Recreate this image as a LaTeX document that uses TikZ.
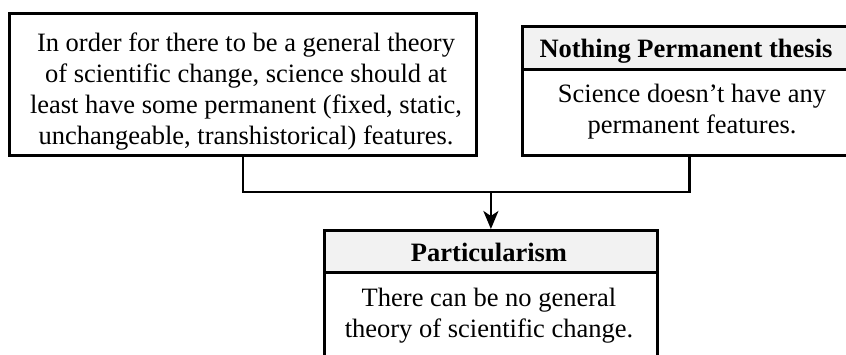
\documentclass[tikz,border=0pt]{standalone}
\usepackage{fontspec}
\setmainfont{Liberation Serif}
\usetikzlibrary{arrows.meta}
\definecolor{headfill}{HTML}{F2F2F2}
\begin{document}
\begin{tikzpicture}[x=0.5pt,y=-0.5pt,
  box/.style={draw=black, line width=1.4pt, inner sep=0pt, anchor=north west},
  headbox/.style={box, fill=headfill},
  bodytext/.style={font=\fontsize{13.25}{15.5}\selectfont, align=center, inner sep=0pt},
  headtext/.style={font=\fontsize{13.25}{15.5}\selectfont\bfseries, inner sep=0pt, anchor=base},
  conn/.style={line width=1.3pt},
  arrowconn/.style={conn, -{Stealth[length=9pt, width=7.5pt, inset=2.5pt]}}]
\clip (0,0) rectangle (846,354);

% premise box (left)
\node[box, minimum width=233.5pt, minimum height=71pt] (lbox) at (8,12) {};
\node[bodytext] (ltext) at (246,92) {In order for there to be a general theory\\
  of scientific change, science should at\\
  least have some permanent (fixed, static,\\
  unchangeable, transhistorical) features.};

% Nothing Permanent thesis
\node[headbox, minimum width=167pt, minimum height=21.5pt] (rhead) at (521,25) {};
\node[box, minimum width=167pt, minimum height=43pt] (rbody) at (521,68) {};
\node[headtext] (rtitle) at (686,57) {Nothing Permanent thesis};
\node[bodytext] (rtext) at (692,111.5) {Science doesn’t have any\\ permanent features.};

% conclusion: Particularism
\node[headbox, minimum width=166.5pt, minimum height=21pt] (phead) at (323,229) {};
\node[box, minimum width=166.5pt, minimum height=70pt] (pbody) at (323,271) {};
\node[headtext] (ptitle) at (489,261) {Particularism};
\node[bodytext] (ptext) at (489,316) {There can be no general\\ theory of scientific change.};

% connectors
\coordinate (bar) at (0,192);
\draw[conn] (lbox.south) -- (lbox.south |- bar) -- (rbody.south |- bar) -- (rbody.south);
\draw[arrowconn] (phead.north |- bar) -- (phead.north);
\end{tikzpicture}
\end{document}
